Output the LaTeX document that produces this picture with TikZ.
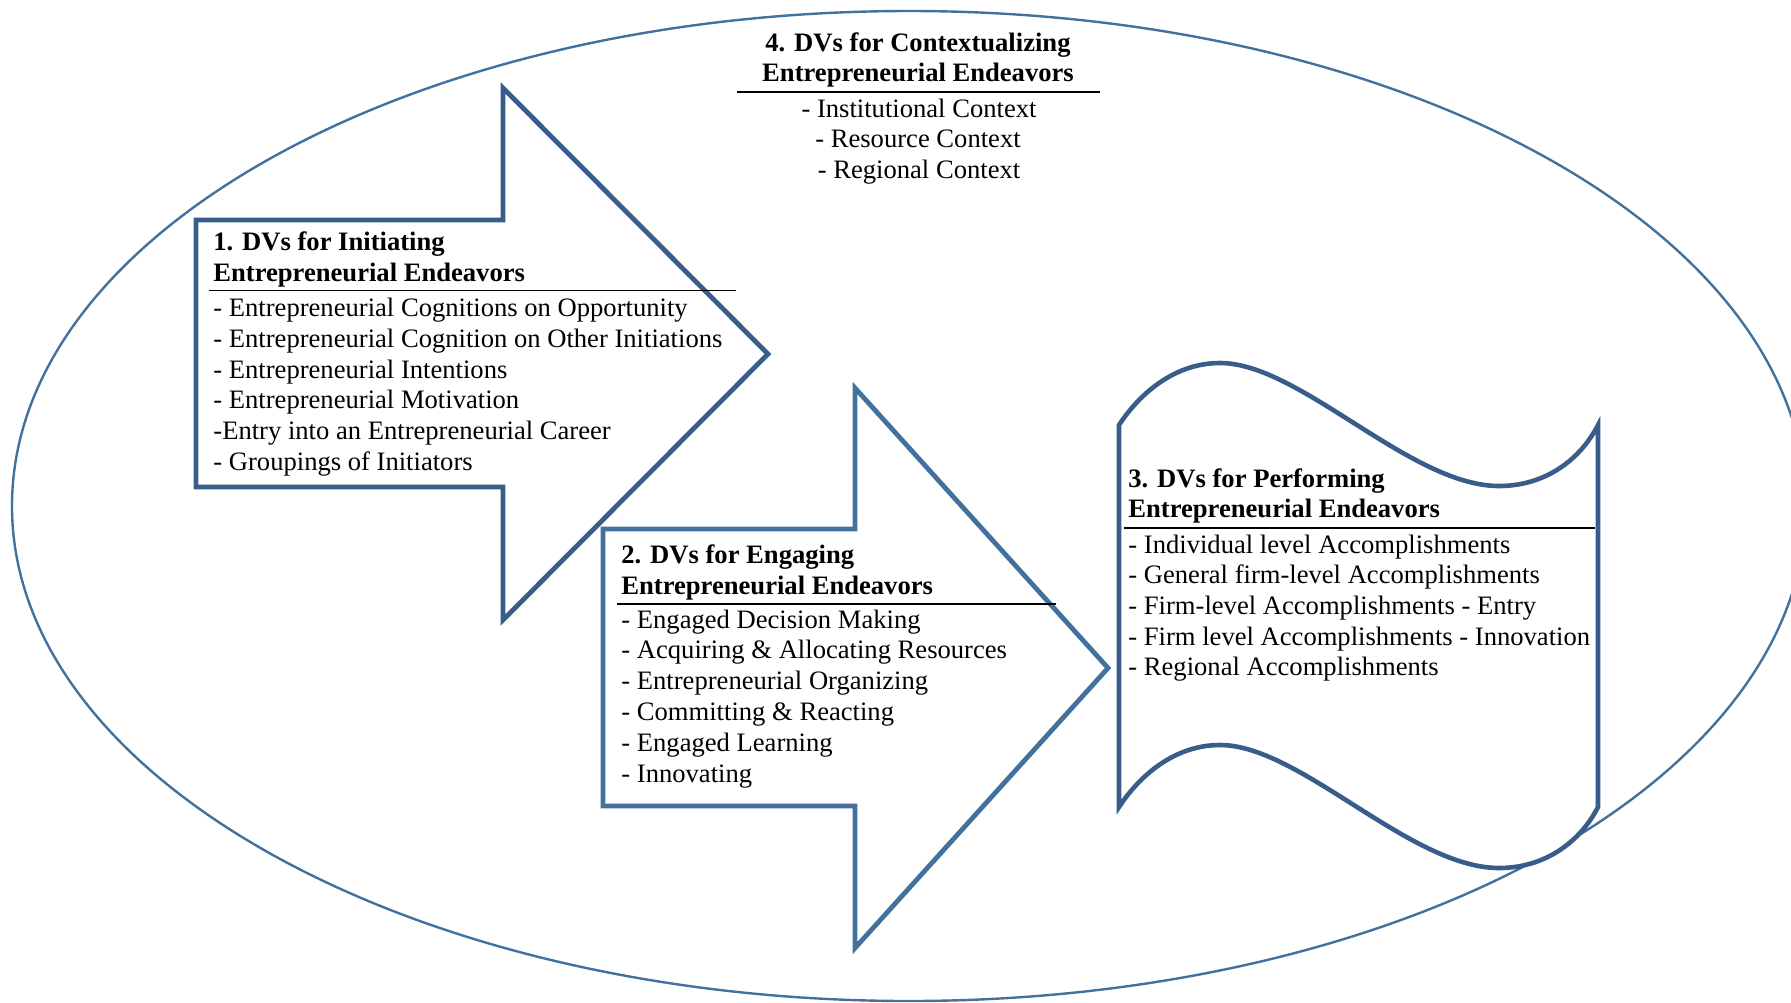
\documentclass[tikz,border=0pt]{standalone}
\usepackage{fontspec}
\setmainfont{Liberation Serif}
\newcommand{\fs}{\fontsize{13.3pt}{15.35pt}\selectfont}
\definecolor{ellc}{HTML}{41719C}
\definecolor{darkc}{HTML}{385D8A}
\definecolor{midc}{HTML}{41719C}
\tikzset{
  item/.style={anchor=base west, inner sep=0pt, font=\fs},
  head/.style={anchor=base west, inner sep=0pt, font=\fs\bfseries},
  citem/.style={anchor=base, inner sep=0pt, font=\fs},
  chead/.style={anchor=base, inner sep=0pt, font=\fs\bfseries},
  rulel/.style={black, line width=0.9pt},
  arrowshape/.style={line width=2.4pt, miter limit=20, fill=white},
}
\begin{document}
\begin{tikzpicture}[x=0.5pt,y=-0.5pt]
\useasboundingbox (0,0) rectangle (1791,1002);
\clip (0,0) rectangle (1791,1002);
% context ellipse
\draw[draw=ellc, line width=1.2pt] (909,506) ellipse [x radius=448.5pt, y radius=247.5pt];
% arrow 1
\draw[arrowshape, draw=darkc] (196,220) -- (503,220) -- (503,88) -- (768,354) -- (503,620) -- (503,487) -- (196,487) -- cycle;
% arrow 2
\draw[arrowshape, draw=midc] (603,529) -- (855,529) -- (855,388) -- (1108,668) -- (855,948) -- (855,806) -- (603,806) -- cycle;
% shape 3 (punched tape)
\draw[draw=darkc, line width=2.3pt, fill=white]
  (1119,425) .. controls (1140,393) and (1175,363) .. (1220,363)
  .. controls (1300,363) and (1410,486) .. (1499,486)
  .. controls (1545,486) and (1580,460) .. (1598,425)
  -- (1598,807)
  .. controls (1580,842) and (1545,868) .. (1499,868)
  .. controls (1410,868) and (1300,745) .. (1220,745)
  .. controls (1175,745) and (1140,775) .. (1119,807)
  -- cycle;

% block 4
\node[chead] (h4a) at (918,51.7) {4. DVs for Contextualizing};
\node[chead] (h4b) at (918,81.7) {Entrepreneurial Endeavors};
\draw[rulel] (737,91.7) -- (1100,91.7);
\node[citem] (c4a) at (919,117.3) {- Institutional Context};
\node[citem] (c4b) at (918,147.7) {- Resource Context};
\node[citem] (c4c) at (919,178.3) {- Regional Context};

% block 1
\node[head] (h1a) at (213,250.7) {1. DVs for Initiating};
\node[head] (h1b) at (213,281.7) {Entrepreneurial Endeavors};
\draw[rulel] (209,290.5) -- (736,290.5);
\foreach \t [count=\i] in {{- Entrepreneurial Cognitions on Opportunity},{- Entrepreneurial Cognition on Other Initiations},{- Entrepreneurial Intentions},{- Entrepreneurial Motivation},{-Entry into an Entrepreneurial Career},{- Groupings of Initiators}}
  \node[item] (b1i\i) at (213,{316.7+30.7*(\i-1)}) {\t};

% block 2
\node[head] (h2a) at (621,563) {2. DVs for Engaging};
\node[head] (h2b) at (621,594) {Entrepreneurial Endeavors};
\draw[rulel] (617,604) -- (1056,604);
\foreach \t [count=\i] in {{- Engaged Decision Making},{- Acquiring \& Allocating Resources},{- Entrepreneurial Organizing},{- Committing \& Reacting},{- Engaged Learning},{- Innovating}}
  \node[item] (b2i\i) at (621,{628+30.8*(\i-1)}) {\t};

% block 3
\node[head] (h3a) at (1128,487) {3. DVs for Performing};
\node[head] (h3b) at (1128,517) {Entrepreneurial Endeavors};
\draw[rulel] (1124,528) -- (1595,528);
\foreach \t [count=\i] in {{- Individual level Accomplishments},{- General firm-level Accomplishments},{- Firm-level Accomplishments - Entry},{- Firm level Accomplishments - Innovation},{- Regional Accomplishments}}
  \node[item] (b3i\i) at (1128,{553+30.7*(\i-1)}) {\t};
\end{tikzpicture}
\end{document}
